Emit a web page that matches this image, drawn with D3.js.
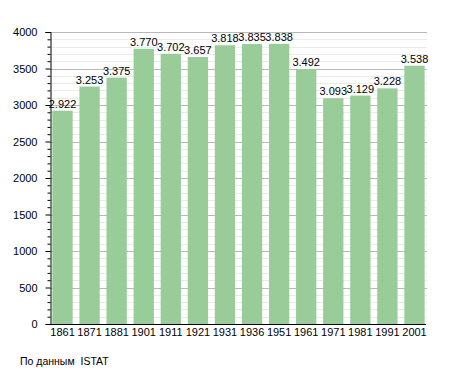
<!DOCTYPE html>
<html>
<head>
<meta charset="utf-8">
<script src="https://cdn.jsdelivr.net/npm/d3@7"></script>
<style>
  body { margin: 0; background: #fff; }
  text { font-family: "Liberation Sans", Arial, sans-serif; }
</style>
</head>
<body>
<div id="chart"></div>
<script>
const years = ["1861", "1871", "1881", "1901", "1911", "1921", "1931", "1936", "1951", "1961", "1971", "1981", "1991", "2001"];
const population = [2922, 3253, 3375, 3770, 3702, 3657, 3818, 3835, 3838, 3492, 3093, 3129, 3228, 3538];
const yTicks = [0, 500, 1000, 1500, 2000, 2500, 3000, 3500, 4000];
const source = "По данным  ISTAT";

const width = 455, height = 373;
const plotLeft = 50, plotRight = 426, plotTop = 32, plotBottom = 324;

const svg = d3.select("#chart").append("svg")
    .attr("width", width)
    .attr("height", height);

const x = d3.scaleBand().domain(years).range([51, plotRight]).paddingInner(0.25).paddingOuter(0.05);
const y = d3.scaleLinear().domain([0, 4000]).range([plotBottom, plotTop]);

const minorVals = d3.range(100, 4000, 100).filter(v => v % 500 !== 0);

// minor grid
svg.append("g")
    .selectAll("line")
    .data(minorVals)
    .join("line")
    .attr("x1", plotLeft).attr("x2", plotRight + 1)
    .attr("y1", d => Math.round(y(d)) + 0.5).attr("y2", d => Math.round(y(d)) + 0.5)
    .attr("stroke", "#ebebeb");

// major grid
svg.append("g")
    .selectAll("line")
    .data(yTicks.slice(1))
    .join("line")
    .attr("x1", plotLeft).attr("x2", plotRight + 1)
    .attr("y1", d => Math.round(y(d)) + 0.5).attr("y2", d => Math.round(y(d)) + 0.5)
    .attr("stroke", "#b8b8b8");

// bars
svg.append("g")
    .selectAll("rect")
    .data(years)
    .join("rect")
    .attr("x", d => x(d))
    .attr("width", x.bandwidth())
    .attr("y", (d, i) => y(population[i]))
    .attr("height", (d, i) => y(0) - y(population[i]))
    .attr("fill", "#99cc99");

// value labels
const fmt = v => d3.format(",")(v).replace(",", ".");
svg.append("g")
    .selectAll("text")
    .data(years)
    .join("text")
    .attr("x", d => x(d) + x.bandwidth() / 2)
    .attr("y", (d, i) => y(population[i]) - 3)
    .attr("text-anchor", "middle")
    .attr("font-size", 11)
    .attr("fill", "#000")
    .text((d, i) => fmt(population[i]));

// y axis
const yAxis = svg.append("g")
    .attr("transform", `translate(${plotLeft + 0.5},0)`)
    .call(d3.axisLeft(y).tickValues(yTicks).tickSize(5).tickPadding(8).tickFormat(d3.format("d")));
yAxis.select(".domain").attr("stroke", "#000");
yAxis.selectAll("text").attr("font-size", 11).attr("font-family", "Liberation Sans, Arial, sans-serif");

svg.append("g")
    .attr("transform", `translate(${plotLeft + 0.5},0)`)
    .call(d3.axisLeft(y).tickValues(minorVals).tickSize(3).tickFormat(""))
    .select(".domain").remove();

// x axis
const xAxis = svg.append("g")
    .attr("transform", `translate(0,${plotBottom + 0.5})`)
    .call(d3.axisBottom(x).tickSize(0).tickPadding(4));
xAxis.select(".domain").attr("d", `M${plotLeft},0H${plotRight}`).attr("stroke", "#000");
xAxis.selectAll("text").attr("font-size", 11).attr("font-family", "Liberation Sans, Arial, sans-serif");

svg.append("text")
    .attr("x", 20)
    .attr("y", 365)
    .attr("font-size", 10.5)
    .style("white-space", "pre")
    .text(source);
</script>
</body>
</html>
